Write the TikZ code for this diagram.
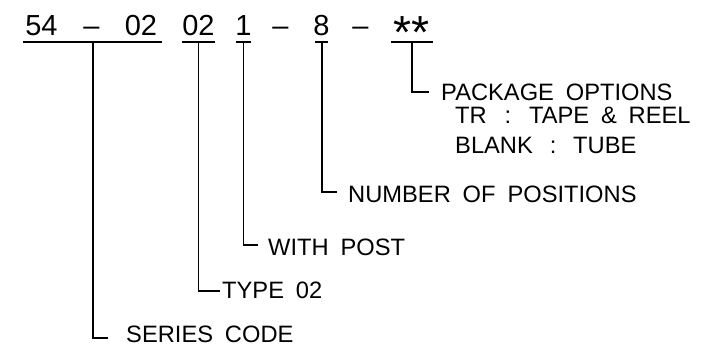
\documentclass[tikz,border=0pt]{standalone}
\usepackage{fontspec}
\setmainfont{Liberation Sans}[WordSpace=1.8]
\newcommand{\bigast}{\raisebox{-13.5pt}{\scalebox{1.6}{*}}}
\begin{document}
\begin{tikzpicture}[x=1pt,y=-1pt,
  code/.style={font=\fontsize{29}{29}\selectfont, inner sep=0pt, anchor=base},
  lab/.style={font=\fontsize{23.7}{24}\selectfont, inner sep=0pt, anchor=base west},
  ln/.style={line width=1.8pt}]
\useasboundingbox (0,0) rectangle (720,351);
% part number
\node[code] (c54)  at (41.5,35)  {54};
\node[code] (d1)   at (91.5,35)  {–};
\node[code] (c02a) at (141,35)   {02};
\node[code] (c02b) at (198.5,35) {02};
\node[code] (c1)   at (243.5,35) {1};
\node[code] (d2)   at (280.5,35) {–};
\node[code] (c8)   at (321.5,35) {8};
\node[code] (d3)   at (360.5,35) {–};
\node[code] (cst)  at (411.5,35) {\bigast\bigast};
% labels
\node[lab] (lpk)  at (441,100) {PACKAGE OPTIONS};
\node[lab] (ltr)  at (455,123) {TR\hspace{6pt} :\hspace{6pt} TAPE \& REEL};
\node[lab] (lbl)  at (455,153) {BLANK\hspace{5pt} :\hspace{5pt} TUBE};
\node[lab] (lnum) at (348,202) {NUMBER OF POSITIONS};
\node[lab] (lwp)  at (268,255) {WITH POST};
\node[lab] (lty)  at (222,298) {TYPE 02};
\node[lab] (lsc)  at (126,342) {SERIES CODE};
% underlines
\coordinate (u1a) at (23,41.7);  \coordinate (u1b) at (162,41.7);
\coordinate (u2a) at (182,41.7); \coordinate (u2b) at (215,41.7);
\coordinate (u3a) at (236,41.7); \coordinate (u3b) at (251,41.7);
\coordinate (u4a) at (315,41.7); \coordinate (u4b) at (328,41.7);
\coordinate (u5a) at (391,41.7); \coordinate (u5b) at (433,41.7);
\draw[ln] (u1a) -- (u1b);
\draw[ln] (u2a) -- (u2b);
\draw[ln] (u3a) -- (u3b);
\draw[ln] (u4a) -- (u4b);
\draw[ln] (u5a) -- (u5b);
% leaders
\coordinate (t1) at (92.7,41.7);  \coordinate (e1) at (108,338);
\coordinate (t2) at (198.5,41.7); \coordinate (e2) at (220,290.7);
\coordinate (t3) at (243.5,41.7); \coordinate (e3) at (258,245);
\coordinate (t4) at (321.7,41.7); \coordinate (e4) at (336.5,192);
\coordinate (t5) at (411.7,41.7); \coordinate (e5) at (429,92);
\draw[ln] (t1) |- (e1);
\draw[ln] (t2) |- (e2);
\draw[ln] (t3) |- (e3);
\draw[ln] (t4) |- (e4);
\draw[ln] (t5) |- (e5);
\end{tikzpicture}
\end{document}
